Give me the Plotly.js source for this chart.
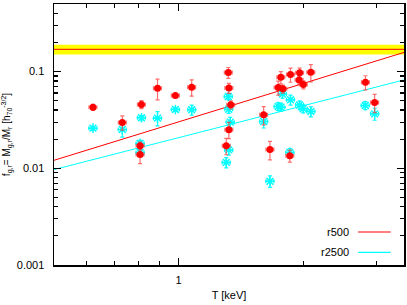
<!DOCTYPE html>
<html><head><meta charset="utf-8">
<script src="https://cdn.plot.ly/plotly-3.0.1.min.js"></script>
<style>html,body{margin:0;padding:0;background:#fff}#c{width:407px;height:305px}</style>
</head><body><div id="c"></div>
<script>
// r500 gas fractions
const r500T = [0.621,0.731,0.813,0.889,0.982,0.807,0.807,1.075,1.318,1.322,1.336,1.322,1.303,1.604,1.661,1.855,1.765,1.739,1.785,1.862,1.959,1.954,2.000,2.085,2.825,2.973];
const r500F = [0.0428,0.0298,0.0457,0.0673,0.0566,0.0171,0.0139,0.0689,0.0976,0.0676,0.0454,0.0251,0.0171,0.0358,0.0156,0.0135,0.0873,0.0684,0.0663,0.0931,0.0970,0.0817,0.0734,0.0983,0.0776,0.0479];
const r500Err = [0.0030,0.0050,0.0043,0.0162,0.0014,0.0016,0.0027,0.0132,0.0127,0.0080,0.0043,0.0048,0.0033,0.0077,0.0034,0.0019,0.0125,0.0114,0.0063,0.0155,0.0115,0.0078,0.0070,0.0199,0.0130,0.0103];
// r2500 gas fractions
const r2500T = [0.621,0.731,0.813,0.889,0.982,0.807,0.807,1.075,1.318,1.321,1.332,1.321,1.303,1.604,1.661,1.855,1.781,1.739,1.765,1.862,1.959,1.998,2.085,2.822,2.973];
const r2500F = [0.0260,0.0252,0.0333,0.0330,0.0406,0.0181,0.0146,0.0403,0.0552,0.0408,0.0300,0.0155,0.0115,0.0305,0.00734,0.0146,0.0586,0.0436,0.0428,0.0511,0.0451,0.0413,0.0387,0.0446,0.0366];
const r2500Err = [0.0012,0.0042,0.0016,0.0055,0.0019,0.0013,0.0010,0.0048,0.0039,0.0039,0.0036,0.0018,0.0014,0.0044,0.0010,0.0014,0.0056,0.0041,0.0041,0.0061,0.0043,0.0039,0.0046,0.0042,0.0052];
// power-law fits
const fitT = [0.5, 3.5];
const fitR500 = [0.0121, 0.158];
const fitR2500 = [0.0097, 0.082];
// cosmic baryon fraction band
const bandT = [0.5, 3.5];
const bandLo = [0.15, 0.15];
const bandMid = [0.17, 0.17];
const bandHi = [0.19, 0.19];
const legendLabels = ['r500', 'r2500'];

const RED = '#ff0000', CYAN = '#00ffff';
const traces = [
  {x: bandT, y: bandLo, mode: 'lines', line: {width: 0, color: '#ffff00'}, showlegend: false, hoverinfo: 'skip'},
  {x: bandT, y: bandHi, mode: 'lines', fill: 'tonexty', fillcolor: '#ffff00', line: {width: 0, color: '#ffff00'}, showlegend: false, hoverinfo: 'skip'},
  {x: bandT, y: bandMid, mode: 'lines', line: {width: 1, color: RED}, showlegend: false},
  {x: fitT, y: fitR500, mode: 'lines', line: {width: 1, color: RED}, showlegend: false},
  {x: fitT, y: fitR2500, mode: 'lines', line: {width: 1, color: CYAN}, showlegend: false},
  {x: r2500T, y: r2500F, mode: 'markers', showlegend: false,
   marker: {symbol: 'asterisk-open', size: 8, color: CYAN, line: {color: CYAN, width: 1.5}},
   error_y: {type: 'data', array: r2500Err, color: CYAN, thickness: 1.2, width: 2},
   error_x: {type: 'percent', value: 2.2, color: CYAN, thickness: 1.2, width: 2}},
  {x: r500T, y: r500F, mode: 'markers', showlegend: false,
   marker: {symbol: 'circle', size: 7, color: RED},
   error_y: {type: 'data', array: r500Err, color: 'rgba(255,60,60,0.75)', thickness: 1.2, width: 2},
   error_x: {type: 'percent', value: 2.2, color: 'rgba(255,60,60,0.75)', thickness: 1.2, width: 2}}
];

const font = {family: 'Liberation Sans, Arial, sans-serif', size: 11, color: '#000'};
const titleFontY = {family: 'Liberation Sans, Arial, sans-serif', size: 10, color: '#000'};
const layout = {
  width: 407, height: 305,
  margin: {l: 54, r: 3, t: 4, b: 40},
  paper_bgcolor: '#fff', plot_bgcolor: '#fff',
  font: font,
  showlegend: false,
  xaxis: {
    type: 'log', range: [Math.log10(0.5), Math.log10(3.5)],
    tickmode: 'array', tickvals: [1], ticktext: ['1'],
    ticks: 'inside', ticklen: 7, tickwidth: 1.5, tickcolor: '#000',
    minor: {tickmode: 'array', tickvals: [0.6,0.7,0.8,0.9,2,3], ticks: 'inside', ticklen: 4, tickwidth: 1.2, tickcolor: '#000', showgrid: false},
    showline: true, linecolor: '#000', linewidth: 1.5, mirror: 'ticks',
    showgrid: false, zeroline: false, ticklabelstandoff: 4,
    title: {text: 'T [keV]', font: font, standoff: 6}
  },
  yaxis: {
    type: 'log', range: [-3, Math.log10(0.5)],
    tickmode: 'array', tickvals: [0.001, 0.01, 0.1], ticktext: ['0.001', '0.01', '0.1'],
    ticks: 'inside', ticklen: 7, tickwidth: 1.5, tickcolor: '#000',
    minor: {tickmode: 'array', tickvals: [0.002,0.003,0.004,0.005,0.006,0.007,0.008,0.009,0.02,0.03,0.04,0.05,0.06,0.07,0.08,0.09,0.2,0.3,0.4], ticks: 'inside', ticklen: 4, tickwidth: 1.2, tickcolor: '#000', showgrid: false},
    showline: true, linecolor: '#000', linewidth: 1.5, mirror: 'ticks',
    showgrid: false, zeroline: false, ticklabelstandoff: 6,
    title: {text: 'f<sub>g,r</sub>= M<sub>g,r</sub>/M<sub>r</sub> [h<sub>70</sub><sup>-3/2</sup>]', font: titleFontY, standoff: 7}
  },
  annotations: [
    {xref: 'paper', yref: 'paper', x: 0.848, y: 0.1264, xanchor: 'right', yanchor: 'middle', text: legendLabels[0], showarrow: false, font: font},
    {xref: 'paper', yref: 'paper', x: 0.848, y: 0.0487, xanchor: 'right', yanchor: 'middle', text: legendLabels[1], showarrow: false, font: font}
  ],
  shapes: [
    {type: 'line', xref: 'paper', yref: 'paper', x0: 0.869, x1: 0.962, y0: 0.1264, y1: 0.1264, line: {color: RED, width: 1.2}},
    {type: 'line', xref: 'paper', yref: 'paper', x0: 0.869, x1: 0.962, y0: 0.0487, y1: 0.0487, line: {color: CYAN, width: 1.2}}
  ]
};
Plotly.newPlot('c', traces, layout, {staticPlot: true, displayModeBar: false});
</script></body></html>
